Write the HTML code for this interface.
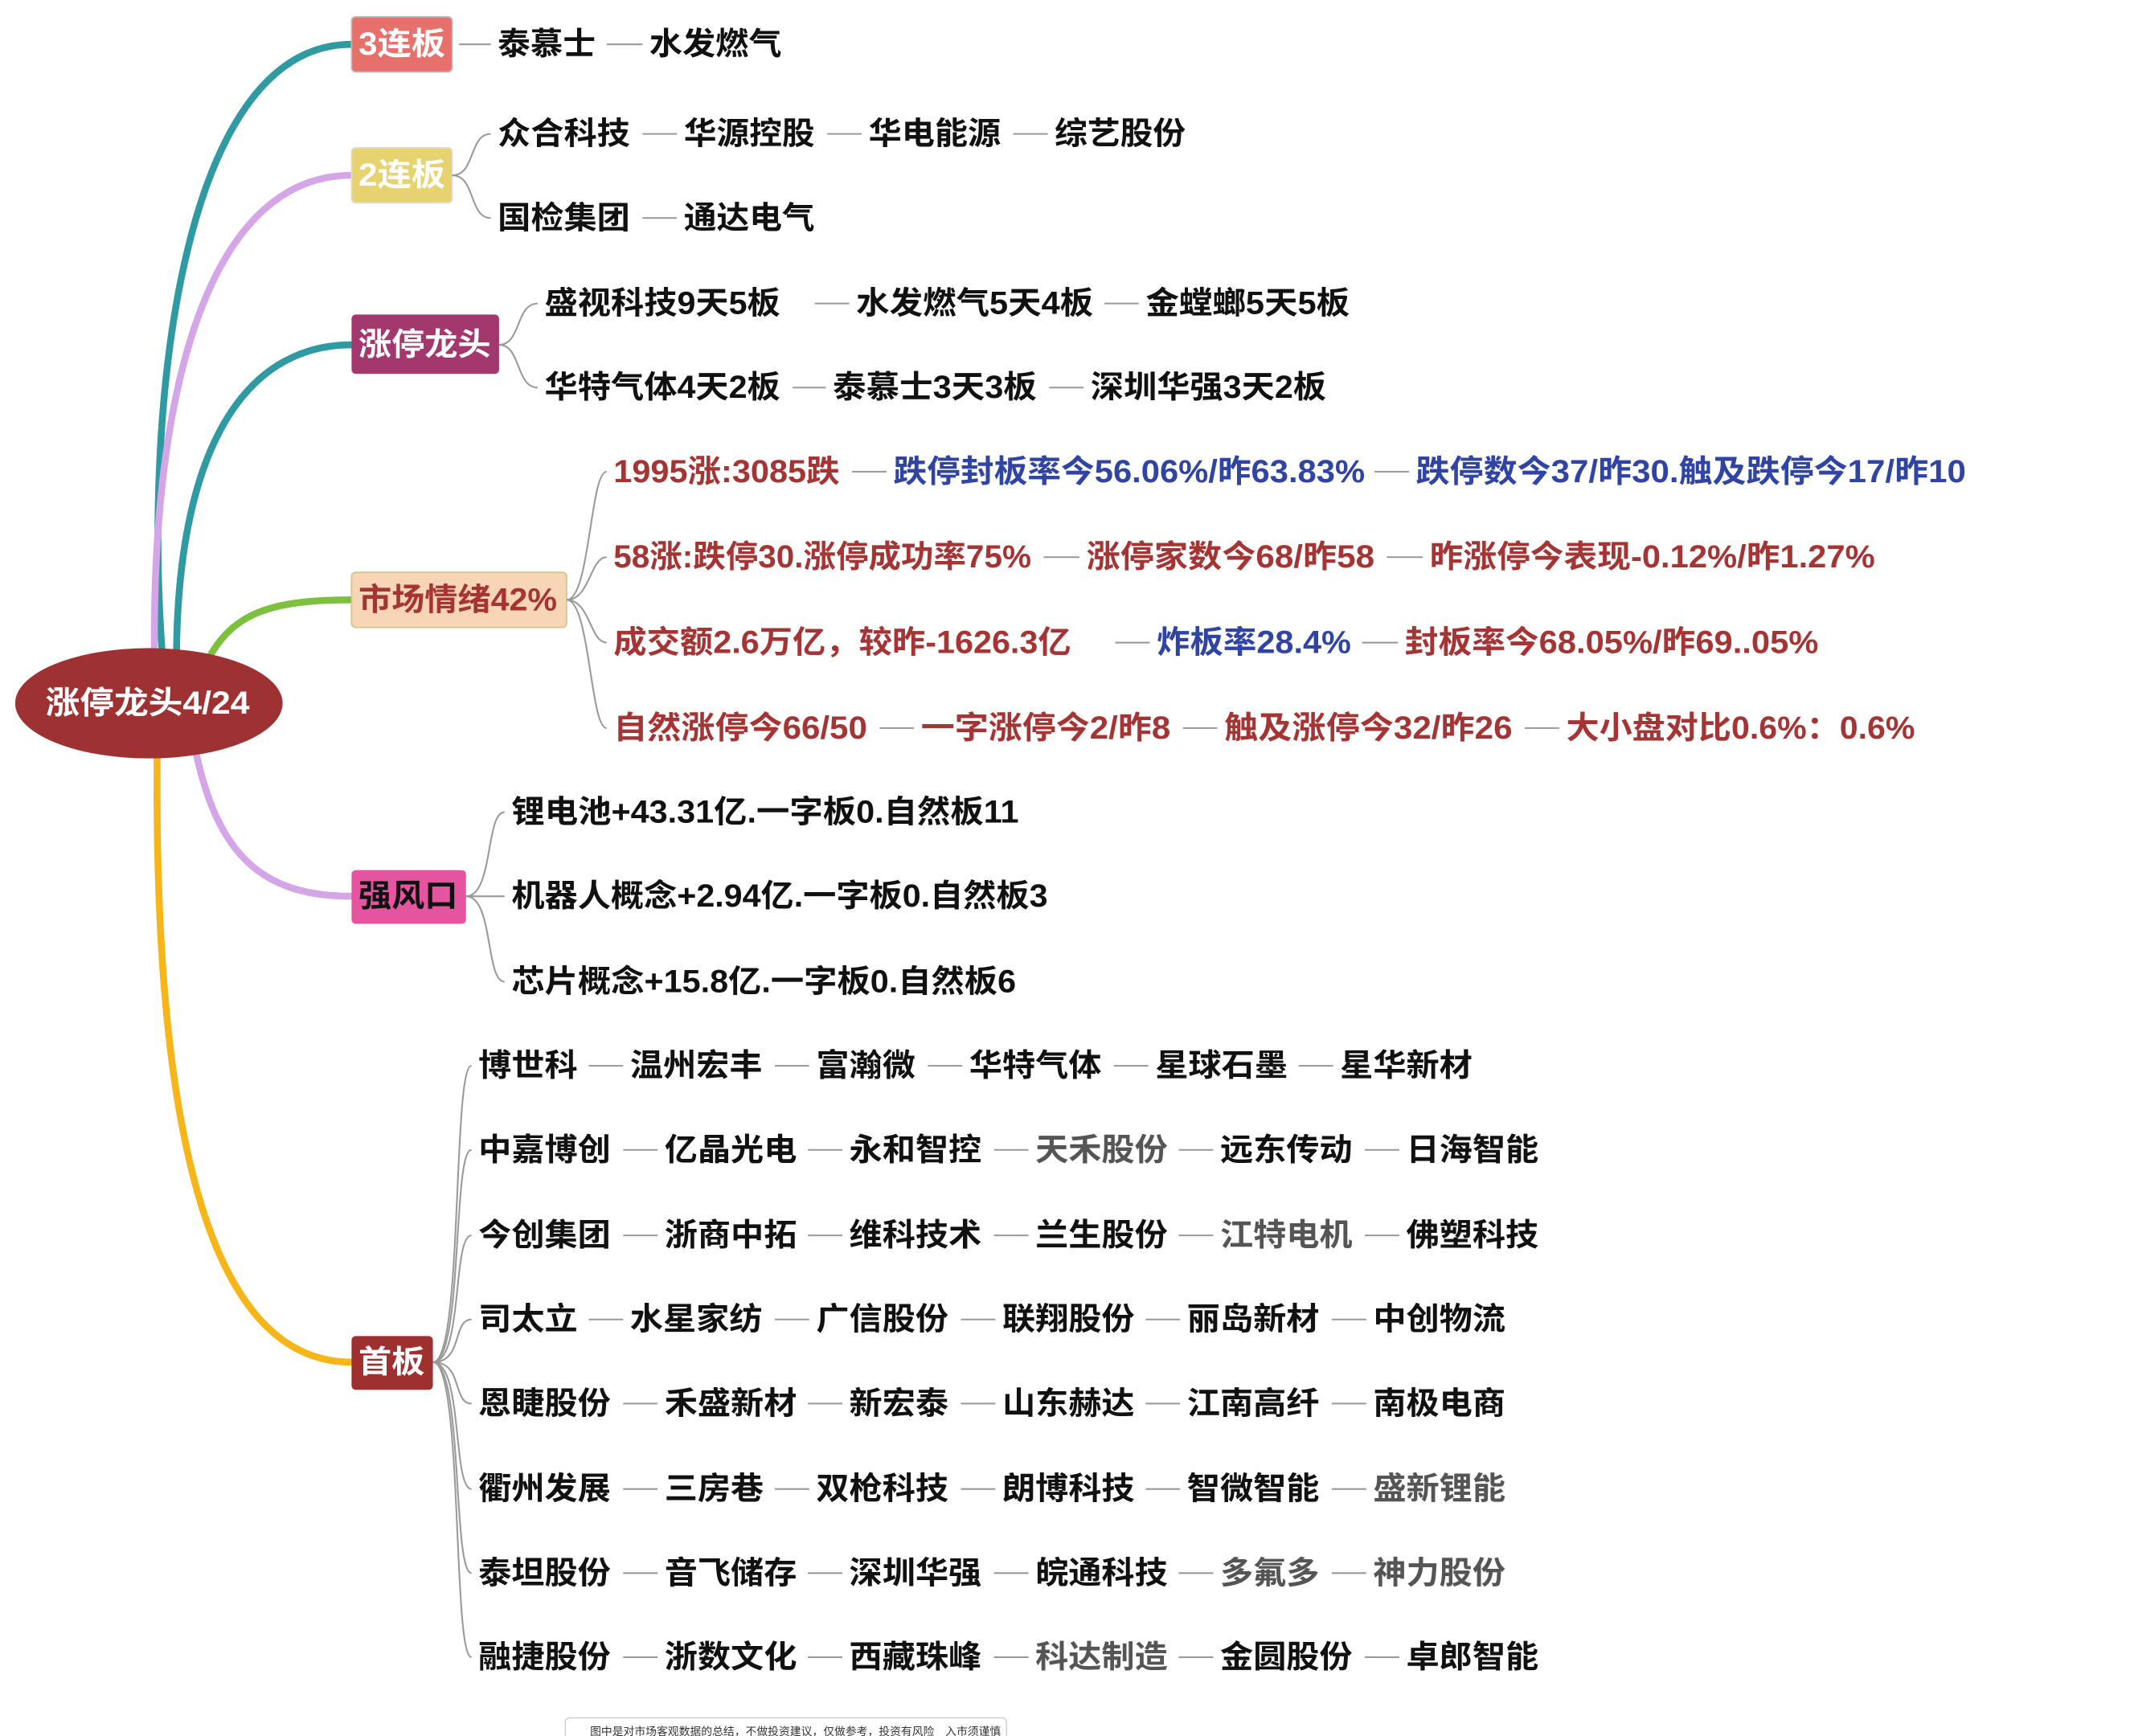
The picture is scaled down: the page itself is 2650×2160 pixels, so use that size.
<!DOCTYPE html>
<html><head><meta charset="utf-8"><style>
html,body{margin:0;padding:0;background:#fff;}
svg{display:block;}
text{font-family:"Liberation Sans","Noto Sans CJK SC",sans-serif;font-weight:600;font-size:23px;dominant-baseline:central;}
.k{fill:#111}.g{fill:#555}.r{fill:#a53535}.b{fill:#2f44a3}.w{fill:#fff}
.c{stroke:#999;stroke-width:1.2;fill:none}
.m{fill:none;stroke-width:5;stroke-linecap:round}
</style></head><body>
<svg width="2650" height="2160" viewBox="0 0 1545 1259" xmlns="http://www.w3.org/2000/svg">
<!-- main branches -->
<path class="m" stroke="#2f9aa2" d="M118,478 C104,300 130,32 255,32"/>
<path class="m" stroke="#d4a6e8" d="M112,478 C110,260 160,127 255,127"/>
<path class="m" stroke="#2f9aa2" d="M128,480 C128,330 175,250 255,250"/>
<path class="m" stroke="#7dbf3e" d="M150,480 C168,445 195,435 255,435"/>
<path class="m" stroke="#d4a6e8" d="M142,545 C158,620 190,650 255,650"/>
<path class="m" stroke="#f6b61a" d="M114,548 C112,780 140,988 255,988"/>
<!-- root -->
<ellipse cx="108" cy="510" rx="97" ry="40" fill="#9e3232"/>
<text class="w" x="33" y="510" textLength="148" lengthAdjust="spacingAndGlyphs">涨停龙头4/24</text>
<!-- boxes -->
<rect x="255" y="12" width="73" height="40" rx="3" fill="#e8706a" stroke="#bbb"/>
<text class="w" x="260" y="32" textLength="63" lengthAdjust="spacingAndGlyphs">3连板</text>
<rect x="255" y="107" width="73" height="40" rx="3" fill="#e7d270" stroke="#ddd"/>
<text class="w" x="260" y="127" textLength="63" lengthAdjust="spacingAndGlyphs">2连板</text>
<rect x="255" y="228" width="107" height="43" rx="3" fill="#a2386e"/>
<text class="w" x="260" y="250" textLength="96" lengthAdjust="spacingAndGlyphs">涨停龙头</text>
<rect x="255" y="415" width="156" height="40" rx="3" fill="#f8d6b5" stroke="#c9c98a"/>
<text class="r" x="260" y="435" textLength="144" lengthAdjust="spacingAndGlyphs">市场情绪42%</text>
<rect x="255" y="631" width="83" height="39" rx="3" fill="#e5559f"/>
<text class="k" x="260" y="650" textLength="72" lengthAdjust="spacingAndGlyphs">强风口</text>
<rect x="255" y="969" width="59" height="39" rx="3" fill="#9e3030"/>
<text class="w" x="260" y="988" textLength="48" lengthAdjust="spacingAndGlyphs">首板</text>

<!-- 3连板 -->
<line class="c" x1="333" y1="32" x2="356" y2="32"/>
<text class="k" x="361" y="32" textLength="71" lengthAdjust="spacingAndGlyphs">泰慕士</text>
<line class="c" x1="440" y1="32" x2="466" y2="32"/>
<text class="k" x="471" y="32" textLength="96" lengthAdjust="spacingAndGlyphs">水发燃气</text>

<!-- 2连板 -->
<path class="c" d="M328,127 C345,127 340,97 356,97"/>
<path class="c" d="M328,127 C345,127 340,158 356,158"/>
<text class="k" x="361" y="97" textLength="96" lengthAdjust="spacingAndGlyphs">众合科技</text>
<line class="c" x1="466" y1="97" x2="491" y2="97"/>
<text class="k" x="496" y="97" textLength="95" lengthAdjust="spacingAndGlyphs">华源控股</text>
<line class="c" x1="600" y1="97" x2="625" y2="97"/>
<text class="k" x="630" y="97" textLength="96" lengthAdjust="spacingAndGlyphs">华电能源</text>
<line class="c" x1="735" y1="97" x2="760" y2="97"/>
<text class="k" x="765" y="97" textLength="95" lengthAdjust="spacingAndGlyphs">综艺股份</text>
<text class="k" x="361" y="158" textLength="96" lengthAdjust="spacingAndGlyphs">国检集团</text>
<line class="c" x1="466" y1="158" x2="491" y2="158"/>
<text class="k" x="496" y="158" textLength="95" lengthAdjust="spacingAndGlyphs">通达电气</text>

<!-- 涨停龙头 -->
<path class="c" d="M362,250 C378,250 374,220 390,220"/>
<path class="c" d="M362,250 C378,250 374,281 390,281"/>
<text class="k" x="395" y="220" textLength="171" lengthAdjust="spacingAndGlyphs">盛视科技9天5板</text>
<line class="c" x1="591" y1="220" x2="616" y2="220"/>
<text class="k" x="621" y="220" textLength="172" lengthAdjust="spacingAndGlyphs">水发燃气5天4板</text>
<line class="c" x1="801" y1="220" x2="826" y2="220"/>
<text class="k" x="831" y="220" textLength="148" lengthAdjust="spacingAndGlyphs">金螳螂5天5板</text>
<text class="k" x="395" y="281" textLength="171" lengthAdjust="spacingAndGlyphs">华特气体4天2板</text>
<line class="c" x1="575" y1="281" x2="599" y2="281"/>
<text class="k" x="604" y="281" textLength="148" lengthAdjust="spacingAndGlyphs">泰慕士3天3板</text>
<line class="c" x1="761" y1="281" x2="786" y2="281"/>
<text class="k" x="791" y="281" textLength="171" lengthAdjust="spacingAndGlyphs">深圳华强3天2板</text>

<!-- 市场情绪 -->
<path class="c" d="M411,435 C428,435 428,342 440,342"/>
<path class="c" d="M411,435 C428,435 428,404 440,404"/>
<path class="c" d="M411,435 C428,435 428,466 440,466"/>
<path class="c" d="M411,435 C428,435 428,528 440,528"/>
<text class="r" x="445" y="342" textLength="164" lengthAdjust="spacingAndGlyphs">1995涨:3085跌</text>
<line class="c" x1="618" y1="342" x2="643" y2="342"/>
<text class="b" x="648" y="342" textLength="342" lengthAdjust="spacingAndGlyphs">跌停封板率今56.06%/昨63.83%</text>
<line class="c" x1="997" y1="342" x2="1022" y2="342"/>
<text class="b" x="1027" y="342" textLength="399" lengthAdjust="spacingAndGlyphs">跌停数今37/昨30.触及跌停今17/昨10</text>
<text class="r" x="445" y="404" textLength="303" lengthAdjust="spacingAndGlyphs">58涨:跌停30.涨停成功率75%</text>
<line class="c" x1="757" y1="404" x2="783" y2="404"/>
<text class="r" x="788" y="404" textLength="209" lengthAdjust="spacingAndGlyphs">涨停家数今68/昨58</text>
<line class="c" x1="1006" y1="404" x2="1032" y2="404"/>
<text class="r" x="1037" y="404" textLength="323" lengthAdjust="spacingAndGlyphs">昨涨停今表现-0.12%/昨1.27%</text>
<text class="r" x="445" y="466" textLength="332" lengthAdjust="spacingAndGlyphs">成交额2.6万亿，较昨-1626.3亿</text>
<line class="c" x1="809" y1="466" x2="834" y2="466"/>
<text class="b" x="839" y="466" textLength="141" lengthAdjust="spacingAndGlyphs">炸板率28.4%</text>
<line class="c" x1="988" y1="466" x2="1014" y2="466"/>
<text class="r" x="1019" y="466" textLength="300" lengthAdjust="spacingAndGlyphs">封板率今68.05%/昨69..05%</text>
<text class="r" x="445" y="528" textLength="184" lengthAdjust="spacingAndGlyphs">自然涨停今66/50</text>
<line class="c" x1="638" y1="528" x2="663" y2="528"/>
<text class="r" x="668" y="528" textLength="181" lengthAdjust="spacingAndGlyphs">一字涨停今2/昨8</text>
<line class="c" x1="858" y1="528" x2="883" y2="528"/>
<text class="r" x="888" y="528" textLength="209" lengthAdjust="spacingAndGlyphs">触及涨停今32/昨26</text>
<line class="c" x1="1106" y1="528" x2="1131" y2="528"/>
<text class="r" x="1136" y="528" textLength="253" lengthAdjust="spacingAndGlyphs">大小盘对比0.6%：0.6%</text>

<!-- 强风口 -->
<path class="c" d="M338,650 C358,650 352,589 366,589"/>
<line class="c" x1="338" y1="650" x2="366" y2="650"/>
<path class="c" d="M338,650 C358,650 352,712 366,712"/>
<text class="k" x="371" y="589" textLength="368" lengthAdjust="spacingAndGlyphs">锂电池+43.31亿.一字板0.自然板11</text>
<text class="k" x="371" y="650" textLength="389" lengthAdjust="spacingAndGlyphs">机器人概念+2.94亿.一字板0.自然板3</text>
<text class="k" x="371" y="712" textLength="366" lengthAdjust="spacingAndGlyphs">芯片概念+15.8亿.一字板0.自然板6</text>

<!-- 首板 -->
<g>
<path class="c" d="M314,988 C336,988 328,773 342,773"/>
<path class="c" d="M314,988 C336,988 328,834 342,834"/>
<path class="c" d="M314,988 C336,988 328,896 342,896"/>
<path class="c" d="M314,988 C336,988 328,957 342,957"/>
<path class="c" d="M314,988 C336,988 328,1018 342,1018"/>
<path class="c" d="M314,988 C336,988 328,1080 342,1080"/>
<path class="c" d="M314,988 C336,988 328,1141 342,1141"/>
<path class="c" d="M314,988 C336,988 328,1202 342,1202"/>
</g>
<!-- row1 -->
<text class="k" x="347" y="773" textLength="72" lengthAdjust="spacingAndGlyphs">博世科</text>
<line class="c" x1="427" y1="773" x2="452" y2="773"/>
<text class="k" x="457" y="773" textLength="96" lengthAdjust="spacingAndGlyphs">温州宏丰</text>
<line class="c" x1="562" y1="773" x2="587" y2="773"/>
<text class="k" x="592" y="773" textLength="72" lengthAdjust="spacingAndGlyphs">富瀚微</text>
<line class="c" x1="673" y1="773" x2="698" y2="773"/>
<text class="k" x="703" y="773" textLength="96" lengthAdjust="spacingAndGlyphs">华特气体</text>
<line class="c" x1="808" y1="773" x2="833" y2="773"/>
<text class="k" x="838" y="773" textLength="96" lengthAdjust="spacingAndGlyphs">星球石墨</text>
<line class="c" x1="942" y1="773" x2="967" y2="773"/>
<text class="k" x="972" y="773" textLength="96" lengthAdjust="spacingAndGlyphs">星华新材</text>
<!-- row2 -->
<text class="k" x="347" y="834" textLength="96" lengthAdjust="spacingAndGlyphs">中嘉博创</text>
<line class="c" x1="452" y1="834" x2="477" y2="834"/>
<text class="k" x="482" y="834" textLength="96" lengthAdjust="spacingAndGlyphs">亿晶光电</text>
<line class="c" x1="586" y1="834" x2="611" y2="834"/>
<text class="k" x="616" y="834" textLength="96" lengthAdjust="spacingAndGlyphs">永和智控</text>
<line class="c" x1="721" y1="834" x2="746" y2="834"/>
<text class="g" x="751" y="834" textLength="96" lengthAdjust="spacingAndGlyphs">天禾股份</text>
<line class="c" x1="855" y1="834" x2="880" y2="834"/>
<text class="k" x="885" y="834" textLength="96" lengthAdjust="spacingAndGlyphs">远东传动</text>
<line class="c" x1="990" y1="834" x2="1015" y2="834"/>
<text class="k" x="1020" y="834" textLength="96" lengthAdjust="spacingAndGlyphs">日海智能</text>
<!-- row3 -->
<text class="k" x="347" y="896" textLength="96" lengthAdjust="spacingAndGlyphs">今创集团</text>
<line class="c" x1="452" y1="896" x2="477" y2="896"/>
<text class="k" x="482" y="896" textLength="96" lengthAdjust="spacingAndGlyphs">浙商中拓</text>
<line class="c" x1="586" y1="896" x2="611" y2="896"/>
<text class="k" x="616" y="896" textLength="96" lengthAdjust="spacingAndGlyphs">维科技术</text>
<line class="c" x1="721" y1="896" x2="746" y2="896"/>
<text class="k" x="751" y="896" textLength="96" lengthAdjust="spacingAndGlyphs">兰生股份</text>
<line class="c" x1="855" y1="896" x2="880" y2="896"/>
<text class="g" x="885" y="896" textLength="96" lengthAdjust="spacingAndGlyphs">江特电机</text>
<line class="c" x1="990" y1="896" x2="1015" y2="896"/>
<text class="k" x="1020" y="896" textLength="96" lengthAdjust="spacingAndGlyphs">佛塑科技</text>
<!-- row4 -->
<text class="k" x="347" y="957" textLength="72" lengthAdjust="spacingAndGlyphs">司太立</text>
<line class="c" x1="427" y1="957" x2="452" y2="957"/>
<text class="k" x="457" y="957" textLength="96" lengthAdjust="spacingAndGlyphs">水星家纺</text>
<line class="c" x1="562" y1="957" x2="587" y2="957"/>
<text class="k" x="592" y="957" textLength="96" lengthAdjust="spacingAndGlyphs">广信股份</text>
<line class="c" x1="697" y1="957" x2="722" y2="957"/>
<text class="k" x="727" y="957" textLength="96" lengthAdjust="spacingAndGlyphs">联翔股份</text>
<line class="c" x1="831" y1="957" x2="856" y2="957"/>
<text class="k" x="861" y="957" textLength="96" lengthAdjust="spacingAndGlyphs">丽岛新材</text>
<line class="c" x1="966" y1="957" x2="991" y2="957"/>
<text class="k" x="996" y="957" textLength="96" lengthAdjust="spacingAndGlyphs">中创物流</text>
<!-- row5 -->
<text class="k" x="347" y="1018" textLength="96" lengthAdjust="spacingAndGlyphs">恩睫股份</text>
<line class="c" x1="452" y1="1018" x2="477" y2="1018"/>
<text class="k" x="482" y="1018" textLength="96" lengthAdjust="spacingAndGlyphs">禾盛新材</text>
<line class="c" x1="586" y1="1018" x2="611" y2="1018"/>
<text class="k" x="616" y="1018" textLength="72" lengthAdjust="spacingAndGlyphs">新宏泰</text>
<line class="c" x1="697" y1="1018" x2="722" y2="1018"/>
<text class="k" x="727" y="1018" textLength="96" lengthAdjust="spacingAndGlyphs">山东赫达</text>
<line class="c" x1="831" y1="1018" x2="856" y2="1018"/>
<text class="k" x="861" y="1018" textLength="96" lengthAdjust="spacingAndGlyphs">江南高纤</text>
<line class="c" x1="966" y1="1018" x2="991" y2="1018"/>
<text class="k" x="996" y="1018" textLength="96" lengthAdjust="spacingAndGlyphs">南极电商</text>
<!-- row6 -->
<text class="k" x="347" y="1080" textLength="96" lengthAdjust="spacingAndGlyphs">衢州发展</text>
<line class="c" x1="452" y1="1080" x2="477" y2="1080"/>
<text class="k" x="482" y="1080" textLength="72" lengthAdjust="spacingAndGlyphs">三房巷</text>
<line class="c" x1="562" y1="1080" x2="587" y2="1080"/>
<text class="k" x="592" y="1080" textLength="96" lengthAdjust="spacingAndGlyphs">双枪科技</text>
<line class="c" x1="697" y1="1080" x2="722" y2="1080"/>
<text class="k" x="727" y="1080" textLength="96" lengthAdjust="spacingAndGlyphs">朗博科技</text>
<line class="c" x1="831" y1="1080" x2="856" y2="1080"/>
<text class="k" x="861" y="1080" textLength="96" lengthAdjust="spacingAndGlyphs">智微智能</text>
<line class="c" x1="966" y1="1080" x2="991" y2="1080"/>
<text class="g" x="996" y="1080" textLength="96" lengthAdjust="spacingAndGlyphs">盛新锂能</text>
<!-- row7 -->
<text class="k" x="347" y="1141" textLength="96" lengthAdjust="spacingAndGlyphs">泰坦股份</text>
<line class="c" x1="452" y1="1141" x2="477" y2="1141"/>
<text class="k" x="482" y="1141" textLength="96" lengthAdjust="spacingAndGlyphs">音飞储存</text>
<line class="c" x1="586" y1="1141" x2="611" y2="1141"/>
<text class="k" x="616" y="1141" textLength="96" lengthAdjust="spacingAndGlyphs">深圳华强</text>
<line class="c" x1="721" y1="1141" x2="746" y2="1141"/>
<text class="k" x="751" y="1141" textLength="96" lengthAdjust="spacingAndGlyphs">皖通科技</text>
<line class="c" x1="855" y1="1141" x2="880" y2="1141"/>
<text class="g" x="885" y="1141" textLength="72" lengthAdjust="spacingAndGlyphs">多氟多</text>
<line class="c" x1="966" y1="1141" x2="991" y2="1141"/>
<text class="g" x="996" y="1141" textLength="96" lengthAdjust="spacingAndGlyphs">神力股份</text>
<!-- row8 -->
<text class="k" x="347" y="1202" textLength="96" lengthAdjust="spacingAndGlyphs">融捷股份</text>
<line class="c" x1="452" y1="1202" x2="477" y2="1202"/>
<text class="k" x="482" y="1202" textLength="96" lengthAdjust="spacingAndGlyphs">浙数文化</text>
<line class="c" x1="586" y1="1202" x2="611" y2="1202"/>
<text class="k" x="616" y="1202" textLength="96" lengthAdjust="spacingAndGlyphs">西藏珠峰</text>
<line class="c" x1="721" y1="1202" x2="746" y2="1202"/>
<text class="g" x="751" y="1202" textLength="96" lengthAdjust="spacingAndGlyphs">科达制造</text>
<line class="c" x1="855" y1="1202" x2="880" y2="1202"/>
<text class="k" x="885" y="1202" textLength="96" lengthAdjust="spacingAndGlyphs">金圆股份</text>
<line class="c" x1="990" y1="1202" x2="1015" y2="1202"/>
<text class="k" x="1020" y="1202" textLength="96" lengthAdjust="spacingAndGlyphs">卓郎智能</text>

<!-- footer -->
<rect x="410" y="1246" width="320" height="20" rx="3" fill="#fff" stroke="#ccc" stroke-width="0.8"/>
<text x="428" y="1256" style="font-size:8px;font-weight:400;fill:#333" textLength="298" lengthAdjust="spacingAndGlyphs">图中是对市场客观数据的总结，不做投资建议，仅做参考，投资有风险　入市须谨慎</text>
</svg>
</body></html>
